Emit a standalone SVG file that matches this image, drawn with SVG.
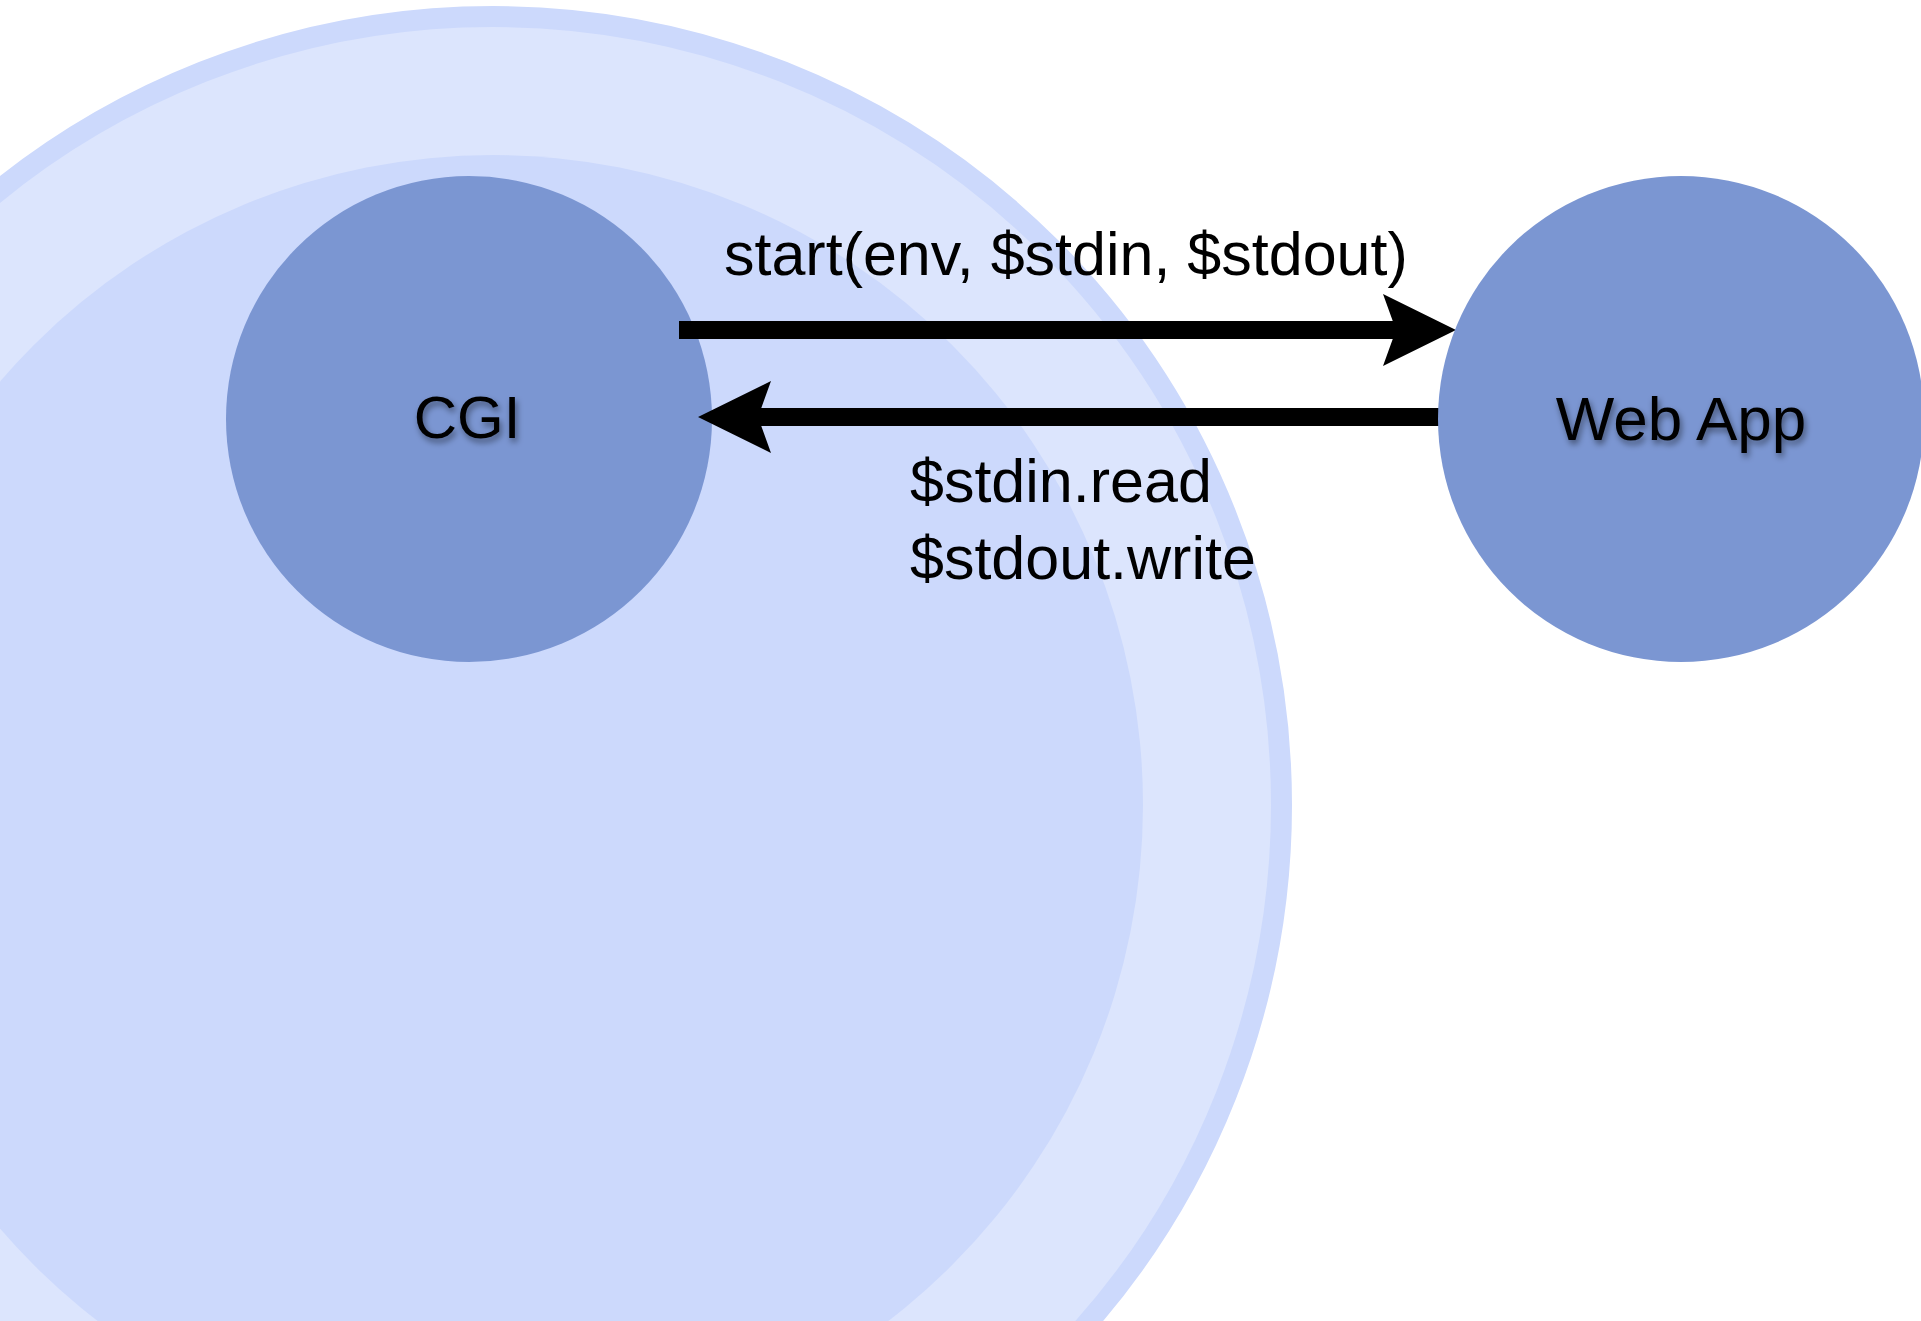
<svg xmlns="http://www.w3.org/2000/svg" width="1921" height="1321" viewBox="0 0 1921 1321">
  <style>
    .label { font-family: "Liberation Sans", Arial, sans-serif; font-size: 61px; fill: #000; }
    .node { fill: #7b96d2; }
    .nodetext { font-family: "Liberation Sans", Arial, sans-serif; font-size: 60px; fill: #000; text-anchor: middle; filter: url(#shadow); }
    .conn { stroke: #000; stroke-width: 18; fill: none; }
  </style>
  <defs>
    <filter id="shadow" x="-20%" y="-30%" width="140%" height="170%">
      <feDropShadow dx="2" dy="4" stdDeviation="3" flood-color="#000" flood-opacity="0.45"/>
    </filter>
    <marker id="head" viewBox="-74 -37 75 74" refX="-60" refY="0" markerWidth="75" markerHeight="74" markerUnits="userSpaceOnUse" orient="auto">
      <path d="M0,0 L-73,-36 L-60,0 L-73,36 Z" fill="#000"/>
    </marker>
  </defs>
  <rect width="1921" height="1321" fill="#ffffff"/>
  <g id="background">
    <circle cx="493" cy="805" r="788.5" fill="#dce5fd" stroke="#ccd9fc" stroke-width="21"/>
    <circle cx="493" cy="805" r="650" fill="#ccd9fc"/>
  </g>
  <g id="node-cgi">
    <circle class="node" cx="469" cy="419" r="243"/>
    <text class="nodetext" x="467" y="438">CGI</text>
  </g>
  <g id="connectors">
    <line class="conn" x1="679" y1="330" x2="1396" y2="330" marker-end="url(#head)"/>
    <line class="conn" x1="1440" y1="417" x2="758" y2="417" marker-end="url(#head)"/>
  </g>
  <g id="node-webapp">
    <circle class="node" cx="1681" cy="419" r="243"/>
    <text class="nodetext" x="1681" y="440" style="font-size:62px">Web App</text>
  </g>
  <g id="labels">
    <text class="label" x="724" y="275">start(env, $stdin, $stdout)</text>
    <text class="label" x="910" y="502">$stdin.read</text>
    <text class="label" x="910" y="579">$stdout.write</text>
  </g>
</svg>
